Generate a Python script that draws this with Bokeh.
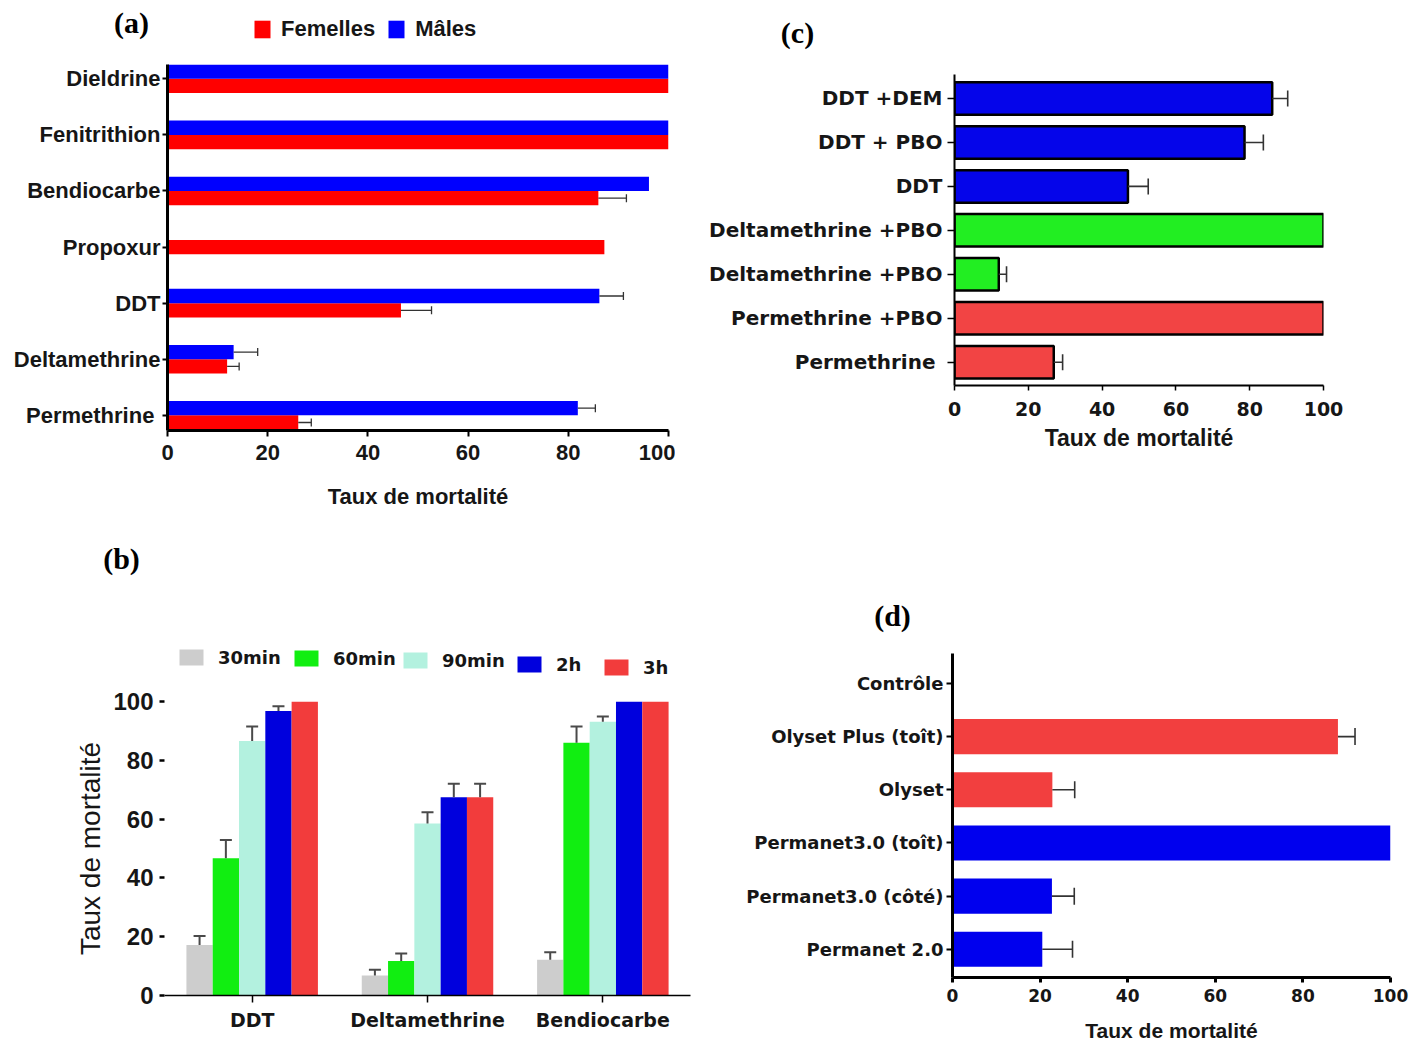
import math

from bokeh.embed import file_html
from bokeh.layouts import column, row
from bokeh.models import (ColumnDataSource, FactorRange, FixedTicker, Label,
                          Legend, LegendItem, Range1d)
from bokeh.plotting import figure
from bokeh.resources import INLINE
from bokeh.transform import dodge

# ---------------------------------------------------------------- data
# (a) mortality by sex
a_insecticides = ["Dieldrine", "Fenitrithion", "Bendiocarbe", "Propoxur",
                  "DDT", "Deltamethrine", "Permethrine "]
a_femelles = [100, 100, 86.0, 87.2, 46.6, 11.9, 26.1]
a_femelles_err = [0, 0, 5.6, 0, 6.1, 2.4, 2.6]
a_males = [100, 100, 96.1, None, 86.2, 13.2, 81.9]
a_males_err = [0, 0, 0, None, 4.8, 4.8, 3.5]

# (b) mortality over exposure time
b_insecticides = ["DDT", "Deltamethrine", "Bendiocarbe"]
b_durations = ["30min", "60min", "90min", "2h", "3h"]
b_30min = [17.2, 6.8, 12.2]
b_30min_err = [3.0, 2.0, 2.5]
b_60min = [46.7, 11.7, 86.0]
b_60min_err = [6.2, 2.6, 5.5]
b_90min = [86.6, 58.5, 93.1]
b_90min_err = [4.9, 3.8, 1.8]
b_2h = [96.8, 67.4, 100]
b_2h_err = [1.6, 4.6, 0]
b_3h = [100, 67.4, 100]
b_3h_err = [0, 4.6, 0]

# (c) synergist tests
c_tests = ["DDT +DEM", "DDT + PBO", "DDT", "Deltamethrine +PBO",
           "Deltamethrine +PBO", "Permethrine +PBO", "Permethrine "]
c_mortality = [86.1, 78.6, 47.0, 100, 12.0, 100, 26.9]
c_err = [4.2, 5.1, 5.5, 0, 2.1, 0, 2.4]

# (d) bed nets
d_nets = ["Contrôle", "Olyset Plus (toît)", "Olyset", "Permanet3.0 (toît)",
          "Permanet3.0 (côté)", "Permanet 2.0"]
d_mortality = [0, 88.0, 22.8, 100, 22.7, 20.5]
d_err = [0, 3.9, 5.1, 0, 5.1, 6.9]

x_ticks = [0, 20, 40, 60, 80, 100]

# ---------------------------------------------------------------- styles
INK = "#161616"
ERR = "#333333"
SANS = "Liberation Sans"
WIDE = "DejaVu Sans"
SERIF = "Liberation Serif"

RED_A, BLUE_A = "#ff0000", "#0000ff"
B_COLORS = ["#cdcdcd", "#11ee11", "#b3f1df", "#0000dd", "#f23c3c"]
C_BLUE, C_GREEN, C_RED = "#0505ea", "#22ee22", "#f24444"
c_colors = [C_BLUE, C_BLUE, C_BLUE, C_GREEN, C_GREEN, C_RED, C_RED]
D_RED, D_BLUE = "#f23f3f", "#0000ee"
d_colors = [D_RED, D_RED, D_RED, D_BLUE, D_BLUE, D_BLUE]

# page boxes of the chart figures:
# (left, top, width, height, border_l, border_r, border_t, border_b)
BOX_A = (0, 50, 675, 475, 167, 7, 14, 95)
BOX_C = (675, 50, 747, 475, 279, 99, 24, 140)
BOX_B = (0, 680, 710, 364, 164, 20, 21, 49)
BOX_D = (710, 640, 712, 404, 242, 32, 13, 66)
# page boxes of the header strips (panel tag + legend): (left, top, width, height)
HDR_A = (0, 0, 675, 50)
HDR_C = (675, 0, 747, 50)
HDR_B = (0, 525, 710, 155)
HDR_D = (710, 525, 712, 115)


def new_fig(box, x_range, y_range):
    ox, oy, w, h, bl, br, bt, bb = box
    p = figure(width=w, height=h, x_range=x_range, y_range=y_range,
               output_backend="svg", toolbar_location=None,
               min_border_left=bl, min_border_right=br,
               min_border_top=bt, min_border_bottom=bb)
    p.frame_align = False
    p.xgrid.visible = False
    p.ygrid.visible = False
    p.outline_line_color = None
    p.background_fill_color = "white"
    p.border_fill_color = "white"
    return p


def new_header(hdr):
    ox, oy, w, h = hdr
    p = figure(width=w, height=h, x_range=Range1d(0, w), y_range=Range1d(h, 0),
               x_axis_type=None, y_axis_type=None,
               output_backend="svg", toolbar_location=None,
               min_border_left=0, min_border_right=0,
               min_border_top=0, min_border_bottom=0)
    p.frame_align = False
    p.outline_line_color = None
    p.background_fill_color = "white"
    p.border_fill_color = "white"
    return p


def style_axis(ax, font, size, weight="bold", line_w=2.0, tick_out=5,
               tick_w=2.0, standoff=5, line_color="black"):
    ax.axis_line_color = line_color
    ax.axis_line_width = line_w
    ax.major_tick_line_color = "black"
    ax.major_tick_line_width = tick_w
    ax.major_tick_out = tick_out
    ax.major_tick_in = 0
    ax.minor_tick_line_color = None
    ax.major_label_text_font = font
    ax.major_label_text_font_size = f"{size}px"
    ax.major_label_text_font_style = weight
    ax.major_label_text_color = INK
    ax.major_label_standoff = standoff


def axis_title(ax, text, font, size, weight="bold", standoff=10):
    ax.axis_label = text
    ax.axis_label_text_font = font
    ax.axis_label_text_font_size = f"{size}px"
    ax.axis_label_text_font_style = weight
    ax.axis_label_text_color = INK
    ax.axis_label_standoff = standoff


def panel_tag(hp, hdr, text, px, py):
    ox, oy, w, h = hdr
    hp.add_layout(Label(x=px - ox, y=py - oy, text=text,
                        text_font=SERIF, text_font_style="bold",
                        text_font_size="30px", text_color="black",
                        text_align="center", text_baseline="middle"))


def error_bars(p, xs0, ys0, xs1, ys1, cap_x, cap_y, cap, angle, width=1.5, color=ERR):
    p.segment(x0=xs0, y0=ys0, x1=xs1, y1=ys1, line_color=color, line_width=width)
    p.scatter(x=cap_x, y=cap_y, marker="dash", size=cap, angle=angle,
              line_color=color, line_width=width)


def header_legend(hp, hdr, entries, px_left, py_mid, item_h, glyph_w, glyph_h,
                  standoff, spacing, font, size):
    """Horizontal legend; each swatch comes from a zero-size proxy bar."""
    ox, oy, w, h = hdr
    items = []
    for label, colour in entries:
        proxy = hp.vbar(x=[0], bottom=[0], top=[0], width=0,
                        fill_color=colour, line_color=None)
        items.append(LegendItem(label=label, renderers=[proxy]))
    x = px_left - ox
    y = (oy + h) - (py_mid + item_h / 2)
    hp.add_layout(Legend(items=items, location=(x, y), orientation="horizontal",
                         glyph_width=glyph_w, glyph_height=glyph_h,
                         label_standoff=standoff, spacing=spacing, padding=0,
                         margin=0, border_line_color=None,
                         background_fill_alpha=0, label_text_font=font,
                         label_text_font_style="bold",
                         label_text_font_size=f"{size}px",
                         label_text_color=INK))


# ---------------------------------------------------------------- (a)
n_a = len(a_insecticides)
a_pos = [n_a - 1 - i for i in range(n_a)]
half = 0.1275
fy, fv, fe, my, mv, me = [], [], [], [], [], []
for pos, f, f_err, m, m_err in zip(a_pos, a_femelles, a_femelles_err, a_males, a_males_err):
    if m is None:
        fy.append(pos)          # females only: bar sits on the row centre
    else:
        fy.append(pos - half)
        my.append(pos + half)
        mv.append(m)
        me.append(m_err)
    fv.append(f)
    fe.append(f_err)

pA = new_fig(BOX_A, Range1d(0, 100), Range1d(-0.27, 6.255))
pA.hbar(y=fy, left=0, right=fv, height=0.255, fill_color=RED_A, line_color=None)
pA.hbar(y=my, left=0, right=mv, height=0.255, fill_color=BLUE_A, line_color=None)
for ys, vs, es in ((fy, fv, fe), (my, mv, me)):
    sel = [i for i, e in enumerate(es) if e > 0]
    yy = [ys[i] for i in sel]
    lo = [vs[i] for i in sel]
    hi = [vs[i] + es[i] for i in sel]
    error_bars(pA, lo, yy, hi, yy, hi, yy, cap=8, angle=math.pi / 2, width=1.3)

style_axis(pA.xaxis, SANS, 22, line_w=3, tick_out=6, tick_w=2, standoff=8)
pA.xaxis.ticker = FixedTicker(ticks=x_ticks)
axis_title(pA.xaxis, "Taux de mortalité", SANS, 22, standoff=21)
style_axis(pA.yaxis, SANS, 22, line_w=3, tick_out=5, tick_w=2, standoff=2)
pA.yaxis.ticker = FixedTicker(ticks=a_pos)
pA.yaxis.major_label_overrides = {p: t for p, t in zip(a_pos, a_insecticides)}

hA = new_header(HDR_A)
panel_tag(hA, HDR_A, "(a)", 131, 22)
header_legend(hA, HDR_A, [("Femelles", RED_A), ("Mâles", BLUE_A)],
              252, 29, 25, 20, 22, 9, 11, SANS, 22)

# ---------------------------------------------------------------- (c)
n_c = len(c_tests)
c_pos = [n_c - 1 - i for i in range(n_c)]
pC = new_fig(BOX_C, Range1d(0, 100), Range1d(-0.53, 6.546))
pC.hbar(y=c_pos, left=0, right=c_mortality, height=0.74, fill_color=c_colors,
        line_color="black", line_width=2.5)
sel = [i for i, e in enumerate(c_err) if e > 0]
yy = [c_pos[i] for i in sel]
lo = [c_mortality[i] for i in sel]
hi = [c_mortality[i] + c_err[i] for i in sel]
error_bars(pC, lo, yy, hi, yy, hi, yy, cap=16, angle=math.pi / 2, width=1.6)

style_axis(pC.xaxis, WIDE, 19, line_w=2, tick_out=5, tick_w=1.5, standoff=11)
pC.xaxis.ticker = FixedTicker(ticks=x_ticks)
axis_title(pC.xaxis, "Taux de mortalité", SANS, 23, standoff=6)
style_axis(pC.yaxis, WIDE, 20, line_w=2, tick_out=7, tick_w=1.5, standoff=5)
pC.yaxis.ticker = FixedTicker(ticks=c_pos)
pC.yaxis.major_label_overrides = {p: t for p, t in zip(c_pos, c_tests)}

hC = new_header(HDR_C)
panel_tag(hC, HDR_C, "(c)", 797, 32)

# ---------------------------------------------------------------- (b)
pB = new_fig(BOX_B, FactorRange(*b_insecticides), Range1d(0, 100))
b_values = [b_30min, b_60min, b_90min, b_2h, b_3h]
b_errors = [b_30min_err, b_60min_err, b_90min_err, b_2h_err, b_3h_err]
offsets = [-0.3, -0.15, 0.0, 0.15, 0.3]
for vals, errs, off, col in zip(b_values, b_errors, offsets, B_COLORS):
    src = ColumnDataSource(dict(cat=b_insecticides, top=vals))
    pB.vbar(x=dodge("cat", off, range=pB.x_range), top="top", width=0.15,
            source=src, fill_color=col, line_color=None)
    keep = [i for i, e in enumerate(errs) if e > 0]
    esrc = ColumnDataSource(dict(cat=[b_insecticides[i] for i in keep],
                                 lo=[vals[i] for i in keep],
                                 hi=[vals[i] + errs[i] for i in keep]))
    xs = dodge("cat", off, range=pB.x_range)
    pB.segment(x0=xs, y0="lo", x1=xs, y1="hi", source=esrc,
               line_color="#4a4a4a", line_width=2)
    pB.scatter(x=xs, y="hi", source=esrc, marker="dash", size=12,
               line_color="#4a4a4a", line_width=2)

style_axis(pB.xaxis, WIDE, 19, line_w=1.5, tick_out=7, tick_w=1.5, standoff=6)
style_axis(pB.yaxis, SANS, 24, line_w=0, tick_out=5, tick_w=2.5, standoff=6,
           line_color=None)
pB.yaxis.ticker = FixedTicker(ticks=x_ticks)
axis_title(pB.yaxis, "Taux de mortalité", SANS, 28, weight="normal", standoff=4)

hB = new_header(HDR_B)
panel_tag(hB, HDR_B, "(b)", 121, 558)
b_legend_spots = [(179, 657), (294, 658), (403, 660), (517, 664), (604, 667)]
for lab, col, (lx, ly) in zip(b_durations, B_COLORS, b_legend_spots):
    header_legend(hB, HDR_B, [(lab, col)], lx - 3, ly, 21, 30, 20, 12, 0, WIDE, 18)

# ---------------------------------------------------------------- (d)
n_d = len(d_nets)
d_pos = [n_d - 1 - i for i in range(n_d)]
pD = new_fig(BOX_D, Range1d(0, 100), Range1d(-0.53, 5.5625))
pD.hbar(y=d_pos, left=0, right=d_mortality, height=0.66, fill_color=d_colors,
        line_color=None)
sel = [i for i, e in enumerate(d_err) if e > 0]
yy = [d_pos[i] for i in sel]
lo = [d_mortality[i] for i in sel]
hi = [d_mortality[i] + d_err[i] for i in sel]
error_bars(pD, lo, yy, hi, yy, hi, yy, cap=17, angle=math.pi / 2, width=1.6)

style_axis(pD.xaxis, WIDE, 17, line_w=3, tick_out=5, tick_w=3, standoff=6)
pD.xaxis.ticker = FixedTicker(ticks=x_ticks)
axis_title(pD.xaxis, "Taux de mortalité", SANS, 21, standoff=14)
style_axis(pD.yaxis, WIDE, 18, line_w=3, tick_out=6, tick_w=2, standoff=3)
pD.yaxis.ticker = FixedTicker(ticks=d_pos)
pD.yaxis.major_label_overrides = {p: t for p, t in zip(d_pos, d_nets)}

hD = new_header(HDR_D)
panel_tag(hD, HDR_D, "(d)", 892, 615)

# ---------------------------------------------------------------- page
layout = column(
    row(column(hA, pA), column(hC, pC)),
    row(column(hB, pB), column(hD, pD)),
)
open("out.html", "w").write(file_html(layout, INLINE))
